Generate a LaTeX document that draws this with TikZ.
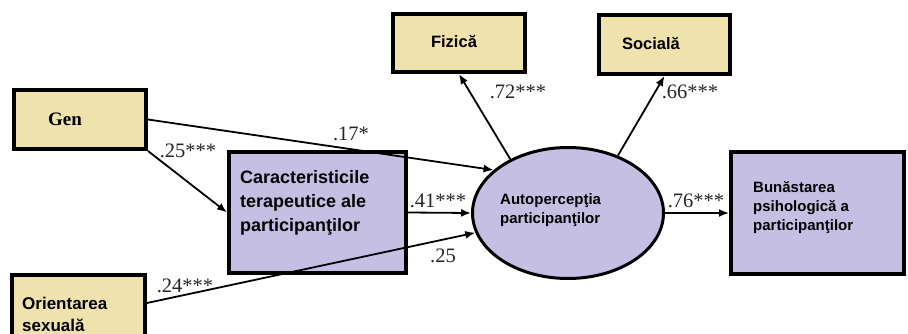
\documentclass[tikz,border=0pt]{standalone}
\usepackage{fontspec}
\setmainfont{Liberation Serif}
\newfontfamily\arialfont{Liberation Sans}
\usetikzlibrary{shapes.geometric,arrows.meta}
\definecolor{sand}{HTML}{EFE2AD}
\definecolor{lilac}{HTML}{C6BFE4}
\begin{document}
\begin{tikzpicture}[x=1pt,y=-1pt,
  box/.style={draw, line width=4pt, inner sep=0pt},
  ybox/.style={box, fill=sand},
  pbox/.style={box, fill=lilac},
  link/.style={line width=1.8pt, -{Latex[length=10pt,width=8pt]}},
  coef/.style={font=\fontsize{20.5}{20.5}\selectfont, text=black!85, inner sep=0pt},
  lbl/.style={font=\arialfont\bfseries\fontsize{16.5}{16.5}\selectfont, inner sep=0pt},
  txt/.style={anchor=north west, align=left, inner sep=0pt},
]
\useasboundingbox[fill=white] (0,0) rectangle (908,334);

% exogenous variables
\node[ybox, minimum width=132pt, minimum height=59pt] (gen) at (80,119.5) {};
\node[font=\bfseries\fontsize{19}{19}\selectfont, inner sep=0pt] (gent) at (65,119) {Gen};

\node[ybox, minimum width=133pt, minimum height=62pt] (ori) at (78.5,306) {};
\node[txt, font=\arialfont\bfseries\fontsize{17}{22}\selectfont] (orit) at (22,297) {Orientarea\\sexuală};

% mediator
\node[pbox, minimum width=177pt, minimum height=121pt] (car) at (317.5,212.5) {};
\node[txt, font=\arialfont\bfseries\fontsize{18}{24}\selectfont] (cart) at (240,170) {Caracteristicile\\terapeutice ale\\participanţilor};

% indicators of self-perception
\node[ybox, minimum width=132pt, minimum height=58pt] (fiz) at (459,43) {};
\node[lbl] (fizt) at (454,42) {Fizică};
\node[ybox, minimum width=131pt, minimum height=59pt] (soc) at (664.5,44.5) {};
\node[lbl] (soct) at (651,44) {Socială};

% latent variable
\node[ellipse, draw, line width=3pt, fill=lilac, minimum width=191pt, minimum height=131pt, inner sep=0pt] (ell) at (568,213) {};
\node[txt, font=\arialfont\bfseries\fontsize{15}{19}\selectfont] (ellt) at (500,193) {Autopercepţia\\participanţilor};

% outcome
\node[pbox, minimum width=173pt, minimum height=122pt] (bun) at (817.5,213) {};
\node[txt, font=\arialfont\bfseries\fontsize{15}{19}\selectfont] (bunt) at (753,181) {Bunăstarea\\psihologică a\\participanţilor};

% paths
\draw[link] (gen.east) -- (ell.150);
\draw[link] (gen.south east) -- (car.west);
\draw[link] (car.east) -- (ell.west);
\draw[link] ([yshift=3pt]ori.east) -- (ell.192);
\draw[link] (ell.137) -- (fiz.south);
\draw[link] (ell.49) -- (soc.south);
\draw[link] (ell.east) -- (bun.west);

% coefficients
\node[coef] (c17) at (351,134) {.17*};
\node[coef] (c25a) at (188,151) {.25***};
\node[coef] (c41) at (438,201) {.41***};
\node[coef] (c25b) at (443,256) {.25};
\node[coef] (c24) at (185,286) {.24***};
\node[coef] (c72) at (518,92) {.72***};
\node[coef] (c66) at (690,92) {.66***};
\node[coef] (c76) at (696,201) {.76***};
\end{tikzpicture}
\end{document}
